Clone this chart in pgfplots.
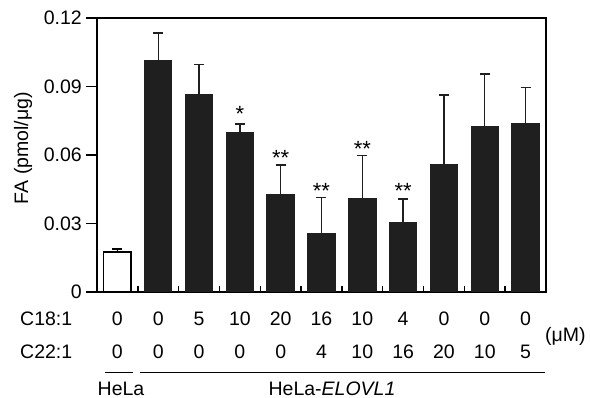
\documentclass[border=0pt]{standalone}
\usepackage{pgfplots}
\pgfplotsset{compat=1.18}
\usepackage{fontspec}
\setmainfont{Liberation Sans}
\begin{document}
\begin{tikzpicture}[font=\fontsize{19.5}{33}\selectfont]
\useasboundingbox (-97pt,-106pt) rectangle (493pt,292pt);
\begin{axis}[
 at={(0pt,0pt)}, anchor=south west,
 width=449pt, height=274pt, scale only axis,
 xmin=-0.5, xmax=10.5, ymin=0, ymax=0.12,
 axis line style={line width=1.4pt},
 font=\fontsize{19.5}{33}\selectfont,
 xtick={0.5,1.5,...,9.5}, xticklabels={},
 xtick align=inside, xtick pos=bottom,
 major tick length=6pt,
 every tick/.style={black, line width=1.4pt},
 ytick=\empty,
 extra y ticks={0,0.03,0.06,0.09,0.12},
 extra y tick labels={0,0.03,0.06,0.09,0.12},
 extra y tick style={major tick length=11pt, ytick align=outside, ytick pos=left,
   yticklabel style={inner sep=0pt, xshift=-4pt}},
 extra x ticks={0,1,2,3,4,5,6,7,8,9,10},
 extra x tick labels={0\\0,0\\0,5\\0,10\\0,20\\0,16\\4,10\\10,4\\16,0\\20,0\\10,0\\5},
 extra x tick style={major tick length=0pt,
   xticklabel style={align=center, anchor=north, inner sep=0pt, yshift=-20pt}},
 ylabel={FA (pmol/μg)},
 ylabel style={at={(axis description cs:-0.1648,0.5255)}, anchor=center, rotate=0},
 clip=false,
]
\addplot[ybar, bar width=27.5pt, bar shift=0pt, fill=white, draw=black, line width=1.4pt,
  error bars/.cd, y dir=plus, y explicit,
  error bar style={line width=1.4pt, black},
  error mark options={rotate=90, mark size=5pt, line width=1.4pt, black}]
  coordinates {(0,0.0175) +- (0,0.0013)};
\addplot[ybar, bar width=27.5pt, bar shift=0pt, fill=black!88, draw=black!88, line width=1pt,
  error bars/.cd, y dir=plus, y explicit,
  error bar style={line width=1.4pt, black!88},
  error mark options={rotate=90, mark size=5pt, line width=1.4pt, black!88}]
  coordinates {
  (1,0.1013) +- (0,0.0121)
  (2,0.0867) +- (0,0.0130)
  (3,0.0699) +- (0,0.0037)
  (4,0.0428) +- (0,0.0128)
  (5,0.0254) +- (0,0.0161)
  (6,0.0409) +- (0,0.0188)
  (7,0.0304) +- (0,0.0103)
  (8,0.0559) +- (0,0.0304)
  (9,0.0724) +- (0,0.0231)
  (10,0.0736) +- (0,0.0159)
  };
\addplot[draw=none, mark=none, nodes near coords, point meta=explicit symbolic,
  nodes near coords style={anchor=base, inner sep=0pt, font=\fontsize{22}{22}\selectfont, black}]
  coordinates {(3,0.0747)[*] (4,0.0552)[**] (5,0.0408)[**] (6,0.0592)[**] (7,0.0408)[**]};
\end{axis}
\node[anchor=west, inner sep=0pt] at (-77pt,-27pt) {C18:1};
\node[anchor=west, inner sep=0pt] at (-77pt,-60pt) {C22:1};
\node[anchor=west, inner sep=0pt] at (448pt,-44pt) {(μM)};
\draw[line width=1.4pt] (8pt,-80.7pt) -- (35.7pt,-80.7pt);
\draw[line width=1.4pt] (43pt,-80.7pt) -- (448pt,-80.7pt);
\node[inner sep=0pt] at (24pt,-96.5pt) {HeLa};
\node[inner sep=0pt] at (235pt,-96.5pt) {HeLa-\textit{ELOVL1}};
\end{tikzpicture}
\end{document}
